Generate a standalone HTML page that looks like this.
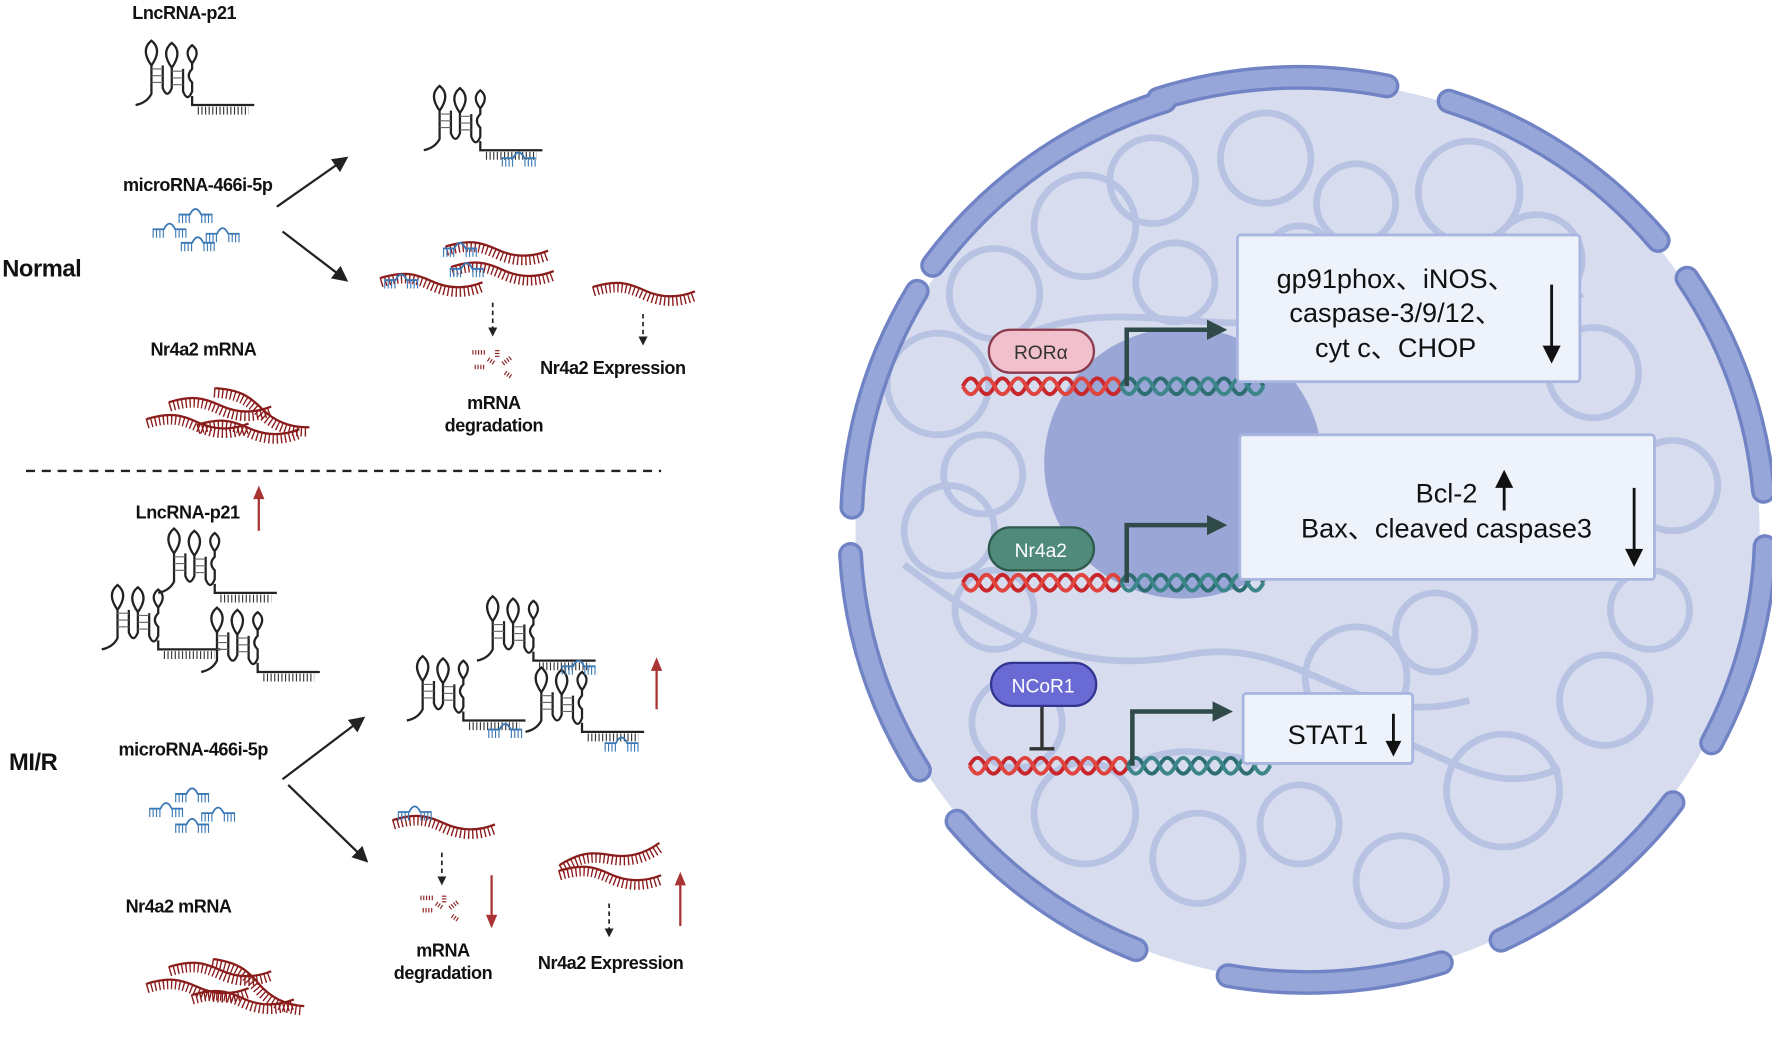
<!DOCTYPE html>
<html><head><meta charset="utf-8"><style>
html,body{margin:0;padding:0;background:#fff;}
svg{display:block;}
.lb{font-family:"Liberation Sans",sans-serif;font-weight:bold;font-size:16px;fill:#111;letter-spacing:-0.4px;}
.bx{font-family:"Liberation Sans","Noto Sans CJK SC",sans-serif;font-size:24px;fill:#111;}
</style></head><body>
<svg width="1772" height="1039" viewBox="0 0 1568 920" preserveAspectRatio="none" xmlns="http://www.w3.org/2000/svg">
<defs>
<marker id="ah" markerWidth="8" markerHeight="8" refX="6" refY="4" orient="auto" markerUnits="userSpaceOnUse"><path d="M0,0 L8,4 L0,8 Z" fill="#222"/></marker>
<marker id="ahs" markerWidth="14" markerHeight="14" refX="10" refY="7" orient="auto" markerUnits="userSpaceOnUse"><path d="M0,0 L14,7 L0,14 Z" fill="#222"/></marker>
<marker id="ahg" markerWidth="18" markerHeight="18" refX="12" refY="9" orient="auto" markerUnits="userSpaceOnUse"><path d="M0,0 L18,9 L0,18 Z" fill="#2f4a48"/></marker>
<g id="mrna">
<path d="M0,0 C20,-6 30,-4 45,3 S75,10 90,4" fill="none" stroke="#8b1c1c" stroke-width="9" stroke-dasharray="1.2 2.4"/>
<path d="M0,-4 C20,-10 30,-8 45,-1 S75,6 90,0" fill="none" stroke="#8b1c1c" stroke-width="2"/>
</g>
<g id="mir">
<path d="M0,0 h10 q5,-10 10,0 h10" fill="none" stroke="#3a78b5" stroke-width="1.6"/>
<path d="M0,4 h10 M20,4 h10" stroke="#3a78b5" stroke-width="7" stroke-dasharray="1 2"/>
</g>
<g id="lnc">
<path d="M0,20 q10,-2 14,-10 l0,-25 q-10,-14 0,-22 q10,8 0,22 M24,-15 l0,20 q4,10 8,0 l0,-18 q-10,-14 0,-22 q10,8 0,22 M42,-12 l0,20 q4,10 8,0 l0,-8 q-6,-6 0,-12 l0,-5 q-8,-10 0,-16 q8,6 0,16 M50,12 l0,8 h55" fill="none" stroke="#222" stroke-width="2"/>
<path d="M14,-12 h10 M14,-6 h10 M14,0 h10 M32,-10 h10 M32,-4 h10 M32,2 h10" stroke="#666" stroke-width="1"/>
<path d="M55,22 h45" stroke="#333" stroke-width="7" stroke-dasharray="1 2.2" transform="translate(0,3)"/>
</g>
</defs>

<text class="lb" x="163" y="17" text-anchor="middle">LncRNA-p21</text>
<use href="#lnc" x="120" y="73"/>
<text class="lb" x="175" y="169" text-anchor="middle">microRNA-466i-5p</text>
<use href="#mir" x="158" y="190"/><use href="#mir" x="135" y="203"/><use href="#mir" x="182" y="207"/><use href="#mir" x="160" y="215"/>
<text class="lb" x="2" y="245" style="font-size:21px">Normal</text>
<line x1="245" y1="183" x2="305" y2="141" stroke="#222" stroke-width="2" marker-end="url(#ahs)"/>
<line x1="250" y1="205" x2="305" y2="247" stroke="#222" stroke-width="2" marker-end="url(#ahs)"/>
<use href="#lnc" x="375" y="113"/>
<use href="#mir" x="444" y="140"/>
<use href="#mrna" x="395" y="222"/><use href="#mrna" x="400" y="240"/><use href="#mrna" x="337" y="250"/><use href="#mrna" x="525" y="258"/>
<use href="#mir" x="392" y="220"/><use href="#mir" x="398" y="238"/><use href="#mir" x="340" y="248"/>
<line x1="436" y1="268" x2="436" y2="296" stroke="#222" stroke-width="1.5" stroke-dasharray="4 3" marker-end="url(#ah)"/>
<line x1="569" y1="278" x2="569" y2="304" stroke="#222" stroke-width="1.5" stroke-dasharray="4 3" marker-end="url(#ah)"/>
<path d="M418,312 h12 M420,325 h10 M440,310 v6 M445,322 l8,-6 M447,330 l6,4 M432,318 l6,4" stroke="#8b1c1c" stroke-width="4" stroke-dasharray="1 1.5"/>
<text class="lb" x="478" y="331">Nr4a2  Expression</text>
<text class="lb" x="437" y="362" text-anchor="middle">mRNA</text>
<text class="lb" x="437" y="382" text-anchor="middle">degradation</text>
<text class="lb" x="180" y="315" text-anchor="middle">Nr4a2 mRNA</text>
<use href="#mrna" x="150" y="360"/><use href="#mrna" x="130" y="375"/><use href="#mrna" x="175" y="380"/><use href="#mrna" x="180" y="360" transform="rotate(20 220 380)"/>
<line x1="23" y1="417" x2="585" y2="417" stroke="#222" stroke-width="2" stroke-dasharray="8 6"/>

<text class="lb" x="166" y="459" text-anchor="middle">LncRNA-p21</text>
<line x1="229" y1="470" x2="229" y2="440" stroke="#a33" stroke-width="2"/>
<path d="M224,442 l5,-12 l5,12z" fill="#a33"/>
<use href="#lnc" x="140" y="505"/><use href="#lnc" x="90" y="555"/><use href="#lnc" x="178" y="575"/>
<text class="lb" x="8" y="682" style="font-size:21px">MI/R</text>
<text class="lb" x="171" y="669" text-anchor="middle">microRNA-466i-5p</text>
<use href="#mir" x="155" y="703"/><use href="#mir" x="132" y="716"/><use href="#mir" x="178" y="720"/><use href="#mir" x="155" y="730"/>
<line x1="250" y1="690" x2="320" y2="637" stroke="#222" stroke-width="2" marker-end="url(#ahs)"/>
<line x1="255" y1="695" x2="323" y2="761" stroke="#222" stroke-width="2" marker-end="url(#ahs)"/>
<use href="#lnc" x="422" y="565"/><use href="#lnc" x="360" y="618"/><use href="#lnc" x="465" y="628"/>
<use href="#mir" x="497" y="590"/><use href="#mir" x="432" y="646"/><use href="#mir" x="535" y="658"/>
<line x1="581" y1="628" x2="581" y2="592" stroke="#a33" stroke-width="2"/><path d="M576,594 l5,-12 l5,12z" fill="#a33"/>
<use href="#mrna" x="348" y="730"/><use href="#mir" x="352" y="719"/>
<line x1="391" y1="755" x2="391" y2="782" stroke="#222" stroke-width="1.5" stroke-dasharray="4 3" marker-end="url(#ah)"/>
<path d="M372,795 h12 M374,806 h10 M393,793 v6 M398,804 l8,-6 M400,811 l6,4 M386,800 l6,4" stroke="#8b1c1c" stroke-width="4" stroke-dasharray="1 1.5"/>
<line x1="435" y1="775" x2="435" y2="812" stroke="#a33" stroke-width="2"/><path d="M430,810 l5,12 l5,-12z" fill="#a33"/>
<text class="lb" x="392" y="847" text-anchor="middle">mRNA</text>
<text class="lb" x="392" y="867" text-anchor="middle">degradation</text>
<use href="#mrna" x="495" y="758" transform="rotate(-15 540 758)"/><use href="#mrna" x="495" y="775"/>
<line x1="602" y1="820" x2="602" y2="782" stroke="#a33" stroke-width="2"/><path d="M597,784 l5,-12 l5,12z" fill="#a33"/>
<line x1="539" y1="800" x2="539" y2="828" stroke="#222" stroke-width="1.5" stroke-dasharray="4 3" marker-end="url(#ah)"/>
<text class="lb" x="476" y="858">Nr4a2  Expression</text>
<text class="lb" x="158" y="808" text-anchor="middle">Nr4a2 mRNA</text>
<use href="#mrna" x="150" y="860"/><use href="#mrna" x="130" y="875"/><use href="#mrna" x="170" y="885"/><use href="#mrna" x="175" y="870" transform="rotate(25 220 890)"/>

<ellipse cx="1157" cy="470" rx="400" ry="398" fill="#d7dcef"/>
<g fill="none" stroke="#b8c3e3" stroke-width="6">
<circle cx="960" cy="200" r="45"/><circle cx="1020" cy="160" r="38"/><circle cx="1120" cy="140" r="40"/><circle cx="1200" cy="180" r="35"/><circle cx="1300" cy="170" r="45"/>
<circle cx="1360" cy="230" r="40"/><circle cx="880" cy="260" r="40"/><circle cx="830" cy="340" r="45"/><circle cx="870" cy="420" r="35"/><circle cx="840" cy="470" r="40"/>
<circle cx="880" cy="540" r="35"/><circle cx="900" cy="640" r="40"/><circle cx="960" cy="720" r="45"/><circle cx="1060" cy="760" r="40"/><circle cx="1150" cy="730" r="35"/>
<circle cx="1240" cy="780" r="40"/><circle cx="1330" cy="700" r="50"/><circle cx="1420" cy="620" r="40"/><circle cx="1460" cy="540" r="35"/><circle cx="1480" cy="430" r="40"/>
<circle cx="1410" cy="330" r="40"/><circle cx="1200" cy="600" r="45"/><circle cx="1270" cy="560" r="35"/><circle cx="1040" cy="250" r="35"/><circle cx="1150" cy="230" r="30"/>
<path d="M900,300 C1000,250 1100,320 1200,260 S1350,300 1400,260"/><path d="M800,500 C880,560 950,600 1050,580 S1200,650 1300,620"/><path d="M1000,680 C1060,640 1120,700 1180,660 S1300,720 1380,680"/>
</g>
<ellipse cx="1047" cy="410" rx="123" ry="120" fill="#99a6d6"/>
<g fill="none" stroke-linecap="round" stroke="#7083c4" stroke-width="22">
<path d="M1025.0,87.6 A405,400 0 0 1 1227.3,76.1"/>
<path d="M1282.2,89.6 A405,400 0 0 1 1467.3,212.9"/>
<path d="M1492.8,246.3 A405,400 0 0 1 1560.5,435.1"/>
<path d="M1561.8,484.0 A405,400 0 0 1 1514.6,657.8"/>
<path d="M1480.4,710.7 A405,400 0 0 1 1328.2,832.5"/>
<path d="M1275.4,852.5 A405,400 0 0 1 1086.7,863.9"/>
<path d="M1005.3,840.9 A405,400 0 0 1 846.8,727.1"/>
<path d="M813.6,681.9 A405,400 0 0 1 752.6,490.9"/>
<path d="M753.8,449.1 A405,400 0 0 1 811.6,257.9"/>
<path d="M825.3,235.0 A405,400 0 0 1 1030.8,89.5"/>
</g>
<g fill="none" stroke-linecap="round" stroke="#97a6d8" stroke-width="16">
<path d="M1025.0,87.6 A405,400 0 0 1 1227.3,76.1"/>
<path d="M1282.2,89.6 A405,400 0 0 1 1467.3,212.9"/>
<path d="M1492.8,246.3 A405,400 0 0 1 1560.5,435.1"/>
<path d="M1561.8,484.0 A405,400 0 0 1 1514.6,657.8"/>
<path d="M1480.4,710.7 A405,400 0 0 1 1328.2,832.5"/>
<path d="M1275.4,852.5 A405,400 0 0 1 1086.7,863.9"/>
<path d="M1005.3,840.9 A405,400 0 0 1 846.8,727.1"/>
<path d="M813.6,681.9 A405,400 0 0 1 752.6,490.9"/>
<path d="M753.8,449.1 A405,400 0 0 1 811.6,257.9"/>
<path d="M825.3,235.0 A405,400 0 0 1 1030.8,89.5"/>
</g>

<g fill="none" stroke-width="3.5">
<path d="M852,342 q7,-14 14,0 t14,0 t14,0 t14,0 t14,0 t14,0 t14,0 t14,0 t14,0 t14,0" stroke="#c8262b"/>
<path d="M852,342 q7,14 14,0 t14,0 t14,0 t14,0 t14,0 t14,0 t14,0 t14,0 t14,0 t14,0" stroke="#e0443f"/>
<path d="M992,342 q7,-14 14,0 t14,0 t14,0 t14,0 t14,0 t14,0 t14,0 t14,0 t14,0" stroke="#2d6e72"/>
<path d="M992,342 q7,14 14,0 t14,0 t14,0 t14,0 t14,0 t14,0 t14,0 t14,0 t14,0" stroke="#3c868a"/>
<path d="M852,516 q7,-14 14,0 t14,0 t14,0 t14,0 t14,0 t14,0 t14,0 t14,0 t14,0 t14,0" stroke="#c8262b"/>
<path d="M852,516 q7,14 14,0 t14,0 t14,0 t14,0 t14,0 t14,0 t14,0 t14,0 t14,0 t14,0" stroke="#e0443f"/>
<path d="M992,516 q7,-14 14,0 t14,0 t14,0 t14,0 t14,0 t14,0 t14,0 t14,0 t14,0" stroke="#2d6e72"/>
<path d="M992,516 q7,14 14,0 t14,0 t14,0 t14,0 t14,0 t14,0 t14,0 t14,0 t14,0" stroke="#3c868a"/>
<path d="M858,678 q7,-14 14,0 t14,0 t14,0 t14,0 t14,0 t14,0 t14,0 t14,0 t14,0 t14,0" stroke="#c8262b"/>
<path d="M858,678 q7,14 14,0 t14,0 t14,0 t14,0 t14,0 t14,0 t14,0 t14,0 t14,0 t14,0" stroke="#e0443f"/>
<path d="M998,678 q7,-14 14,0 t14,0 t14,0 t14,0 t14,0 t14,0 t14,0 t14,0 t14,0" stroke="#2d6e72"/>
<path d="M998,678 q7,14 14,0 t14,0 t14,0 t14,0 t14,0 t14,0 t14,0 t14,0 t14,0" stroke="#3c868a"/>
</g>
<g fill="none" stroke="#2f4a48" stroke-width="4">
<path d="M997,342 V292 H1080" marker-end="url(#ahg)"/>
<path d="M997,516 V465 H1080" marker-end="url(#ahg)"/>
<path d="M1002,678 V630 H1085" marker-end="url(#ahg)"/>
<path d="M922,625 V663 M911,663 H933" stroke="#333" stroke-width="3"/>
</g>
<rect x="875" y="292" width="93" height="38" rx="19" fill="#f1c0cc" stroke="#8b3a4b" stroke-width="2"/>
<text x="921" y="318" text-anchor="middle" style="font-family:'Liberation Sans',sans-serif;font-size:17px;fill:#333">RORα</text>
<rect x="875" y="467" width="93" height="38" rx="19" fill="#4f8a7a" stroke="#2e5a4d" stroke-width="2"/>
<text x="921" y="493" text-anchor="middle" style="font-family:'Liberation Sans',sans-serif;font-size:17px;fill:#fff">Nr4a2</text>
<rect x="877" y="587" width="93" height="38" rx="19" fill="#6a6ad4" stroke="#33348f" stroke-width="2"/>
<text x="923" y="613" text-anchor="middle" style="font-family:'Liberation Sans',sans-serif;font-size:17px;fill:#fff">NCoR1</text>
<rect x="1095" y="208" width="303" height="130" rx="3" fill="#eef2fb" stroke="#a9b7e0" stroke-width="2.5"/>
<text class="bx" x="1235" y="255" text-anchor="middle">gp91phox、iNOS、</text>
<text class="bx" x="1235" y="285" text-anchor="middle">caspase-3/9/12、</text>
<text class="bx" x="1235" y="316" text-anchor="middle">cyt c、CHOP</text>
<line x1="1373" y1="252" x2="1373" y2="310" stroke="#111" stroke-width="2.5"/><path d="M1365,306 l8,16 l8,-16z" fill="#111"/>
<rect x="1097" y="385" width="367" height="128" rx="3" fill="#eef2fb" stroke="#a9b7e0" stroke-width="2.5"/>
<text class="bx" x="1280" y="445" text-anchor="middle">Bcl-2</text>
<line x1="1331" y1="452" x2="1331" y2="428" stroke="#111" stroke-width="2.5"/><path d="M1323,432 l8,-16 l8,16z" fill="#111"/>
<text class="bx" x="1280" y="476" text-anchor="middle">Bax、cleaved caspase3</text>
<line x1="1446" y1="432" x2="1446" y2="490" stroke="#111" stroke-width="2.5"/><path d="M1438,486 l8,16 l8,-16z" fill="#111"/>
<rect x="1100" y="614" width="150" height="62" rx="3" fill="#eef2fb" stroke="#a9b7e0" stroke-width="2.5"/>
<text class="bx" x="1175" y="659" text-anchor="middle">STAT1</text>
<line x1="1233" y1="632" x2="1233" y2="660" stroke="#111" stroke-width="2.5"/><path d="M1226,656 l7,14 l7,-14z" fill="#111"/>
</svg>
</body></html>
